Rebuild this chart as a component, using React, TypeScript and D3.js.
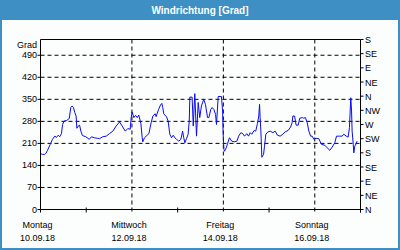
import React from 'react';
import * as d3 from 'd3';

const startDate = new Date(2018, 8, 10, 0, 0, 0);
const hourOffsets = [
  0, 1.0, 2.1, 2.8, 3.7, 5.1, 6.3, 7.5, 8.4, 9.3, 10.1, 11.0, 11.6, 12.4, 13.8, 15.1, 15.9, 16.6, 17.3, 18.0,
  18.7, 19.1, 19.8, 20.5, 21.2, 22.0, 23.8, 25.6, 26.8, 28.2, 29.9, 31.0, 32.7, 34.5, 36.2, 38.0, 39.7, 41.5, 42.9, 44.5,
  45.8, 47.1, 47.6, 48.1, 49.0, 49.9, 50.8, 51.6, 52.7, 53.4, 53.7, 54.6, 55.5, 56.9, 58.1, 59.0, 60.2, 60.7, 62.0, 63.0,
  63.7, 64.2, 64.7, 65.3, 66.2, 67.0, 67.9, 68.8, 69.7, 70.5, 71.4, 72.6, 73.7, 74.6, 75.2, 75.8, 76.7, 77.5, 78.1, 78.4,
  79.6, 80.2, 81.0, 81.9, 82.8, 83.6, 84.5, 85.7, 86.6, 87.7, 88.4, 89.4, 90.1, 91.0, 91.9, 92.4, 93.3, 95.0, 95.6, 95.9,
  96.3, 96.6, 97.5, 98.2, 99.2, 100.4, 101.7, 103.1, 104.0, 105.2, 106.2, 107.1, 108.3, 109.2, 110.1, 110.9, 112.2, 113.0, 113.9, 114.6,
  115.0, 115.3, 115.7, 116.2, 117.1, 117.6, 118.3, 119.3, 120.6, 122.0, 123.2, 124.4, 125.8, 127.2, 128.5, 130.0, 131.3, 132.1, 132.5, 133.4,
  134.2, 135.3, 136.1, 137.4, 138.2, 139.1, 140.0, 140.9, 141.8, 142.6, 143.5, 144.7, 146.1, 147.5, 149.3, 150.5, 151.9, 153.1, 154.5, 155.4,
  157.0, 158.4, 159.2, 160.5, 161.5, 162.2, 162.9, 163.3, 163.6, 164.2, 164.5, 165.0, 165.7, 166.2,
];
const directionValues = [
  178, 175, 175, 178, 188, 207, 223, 233, 229, 236, 231, 241, 270, 281, 283, 289, 324, 329, 324, 308,
  297, 258, 265, 268, 249, 235, 231, 223, 231, 228, 226, 225, 231, 233, 241, 249, 265, 278, 265, 249,
  257, 255, 292, 310, 292, 299, 292, 300, 273, 228, 215, 228, 233, 241, 276, 297, 304, 295, 318, 332,
  337, 324, 304, 300, 294, 281, 239, 228, 236, 228, 223, 217, 223, 249, 228, 212, 226, 239, 281, 357,
  357, 265, 368, 233, 340, 292, 329, 350, 334, 292, 292, 318, 324, 318, 302, 270, 359, 359, 313, 239,
  191, 185, 196, 209, 228, 217, 215, 217, 233, 244, 241, 233, 241, 233, 244, 239, 251, 249, 273, 297,
  334, 292, 249, 166, 175, 201, 239, 246, 249, 244, 249, 236, 233, 239, 247, 251, 262, 276, 297, 297,
  268, 268, 290, 292, 290, 292, 276, 249, 233, 233, 223, 226, 225, 207, 204, 196, 188, 198, 212, 233,
  233, 233, 239, 233, 230, 260, 355, 313, 249, 207, 180, 201, 209, 217,
];
const gradTicks = [0, 70, 140, 210, 280, 350, 420, 490];
const compassLabels = ['N', 'NE', 'E', 'SE', 'S', 'SW', 'W', 'NW', 'N', 'NE', 'E', 'SE', 'S'];
const majorDayOffsets = [0, 2, 4, 6];
const minorDayOffsets = [1, 3, 5, 7];
const dayLabels = ['Montag', 'Mittwoch', 'Freitag', 'Sonntag'];
const dateLabels = ['10.09.18', '12.09.18', '14.09.18', '16.09.18'];

const W = 400;
const H = 250;
const FONT = '"Liberation Sans", Arial, sans-serif';

export default function App() {
  const endDate = d3.timeDay.offset(startDate, 7);
  const x = d3.scaleTime().domain([startDate, endDate]).range([40.5, 360.5]);
  const y = d3.scaleLinear().domain([0, 540]).range([209.5, 39.5]);
  const data = hourOffsets.map((h, i) => ({ t: d3.timeMinute.offset(startDate, Math.round(h * 60)), v: directionValues[i] }));
  const line = d3.line<{ t: Date; v: number }>().x((d) => x(d.t)).y((d) => y(d.v));
  const x0 = x.range()[0];
  const x1 = x.range()[1];
  const y0 = y.range()[0];
  const y1 = y.range()[1];

  return (
    <svg width={W} height={H} style={{ position: 'absolute', left: 0, top: 0, display: 'block' }}>
      <rect x={0} y={0} width={W} height={H} fill="#3d8fc4" />
      <rect x={2} y={20} width={W - 4} height={H - 22} fill="#fcfefe" />
      <text x={200} y={14} textAnchor="middle" fill="#ffffff" fontFamily={FONT} fontWeight="bold" fontSize={10}>
        Windrichtung [Grad]
      </text>

      {/* horizontal grid */}
      {gradTicks.filter((v) => v > 0).map((v) => (
        <line key={'hg' + v} x1={x0} x2={x1} y1={y(v)} y2={y(v)} stroke="#000" strokeDasharray="4,3" strokeWidth={1} />
      ))}
      {/* vertical grid */}
      {majorDayOffsets.filter((d) => d > 0).map((d) => {
        const xx = x(d3.timeDay.offset(startDate, d));
        return <line key={'vg' + d} x1={xx} x2={xx} y1={y1} y2={y0 + 3} stroke="#000" strokeDasharray="4,3" />;
      })}

      {/* series */}
      <path d={line(data) || ''} fill="none" stroke="#0a0af0" strokeWidth={1} />

      {/* frame */}
      <line x1={x0} x2={x1} y1={y1} y2={y1} stroke="#000" />
      <line x1={x0} x2={x1} y1={y0} y2={y0} stroke="#000" />
      <line x1={x0} x2={x0} y1={y1} y2={y0} stroke="#000" />
      <line x1={x1} x2={x1} y1={y1} y2={y0 + 3} stroke="#000" />

      {/* left axis */}
      <text x={37} y={48} textAnchor="end" fontFamily={FONT} fontSize={9} fill="#000">Grad</text>
      {gradTicks.map((v) => (
        <g key={'lt' + v}>
          <line x1={x0 - 3} x2={x0} y1={y(v)} y2={y(v)} stroke="#000" />
          <text x={37} y={y(v) + 3} textAnchor="end" fontFamily={FONT} fontSize={9} fill="#000">{v}</text>
        </g>
      ))}

      {/* right axis */}
      {compassLabels.map((lab, i) => (
        <g key={'rt' + i}>
          <line x1={x1} x2={x1 + 3} y1={y(i * 45)} y2={y(i * 45)} stroke="#000" />
          <text x={365} y={y(i * 45) + 3.5} textAnchor="start" fontFamily={FONT} fontSize={9} fill="#000">{lab}</text>
        </g>
      ))}

      {/* bottom axis */}
      {minorDayOffsets.map((d) => {
        const xx = x(d3.timeDay.offset(startDate, d));
        return <line key={'mt' + d} x1={xx} x2={xx} y1={y0 - 2} y2={y0 + 3} stroke="#000" />;
      })}
      <line x1={x0} x2={x0} y1={y0} y2={y0 + 3} stroke="#000" />
      {majorDayOffsets.map((d, i) => {
        const xx = x(d3.timeDay.offset(startDate, d));
        return (
          <g key={'xl' + d}>
            <text x={xx - 3} y={228} textAnchor="middle" fontFamily={FONT} fontSize={9} fill="#000">{dayLabels[i]}</text>
            <text x={xx - 3} y={241} textAnchor="middle" fontFamily={FONT} fontSize={9} fill="#000">{dateLabels[i]}</text>
          </g>
        );
      })}
    </svg>
  );
}
